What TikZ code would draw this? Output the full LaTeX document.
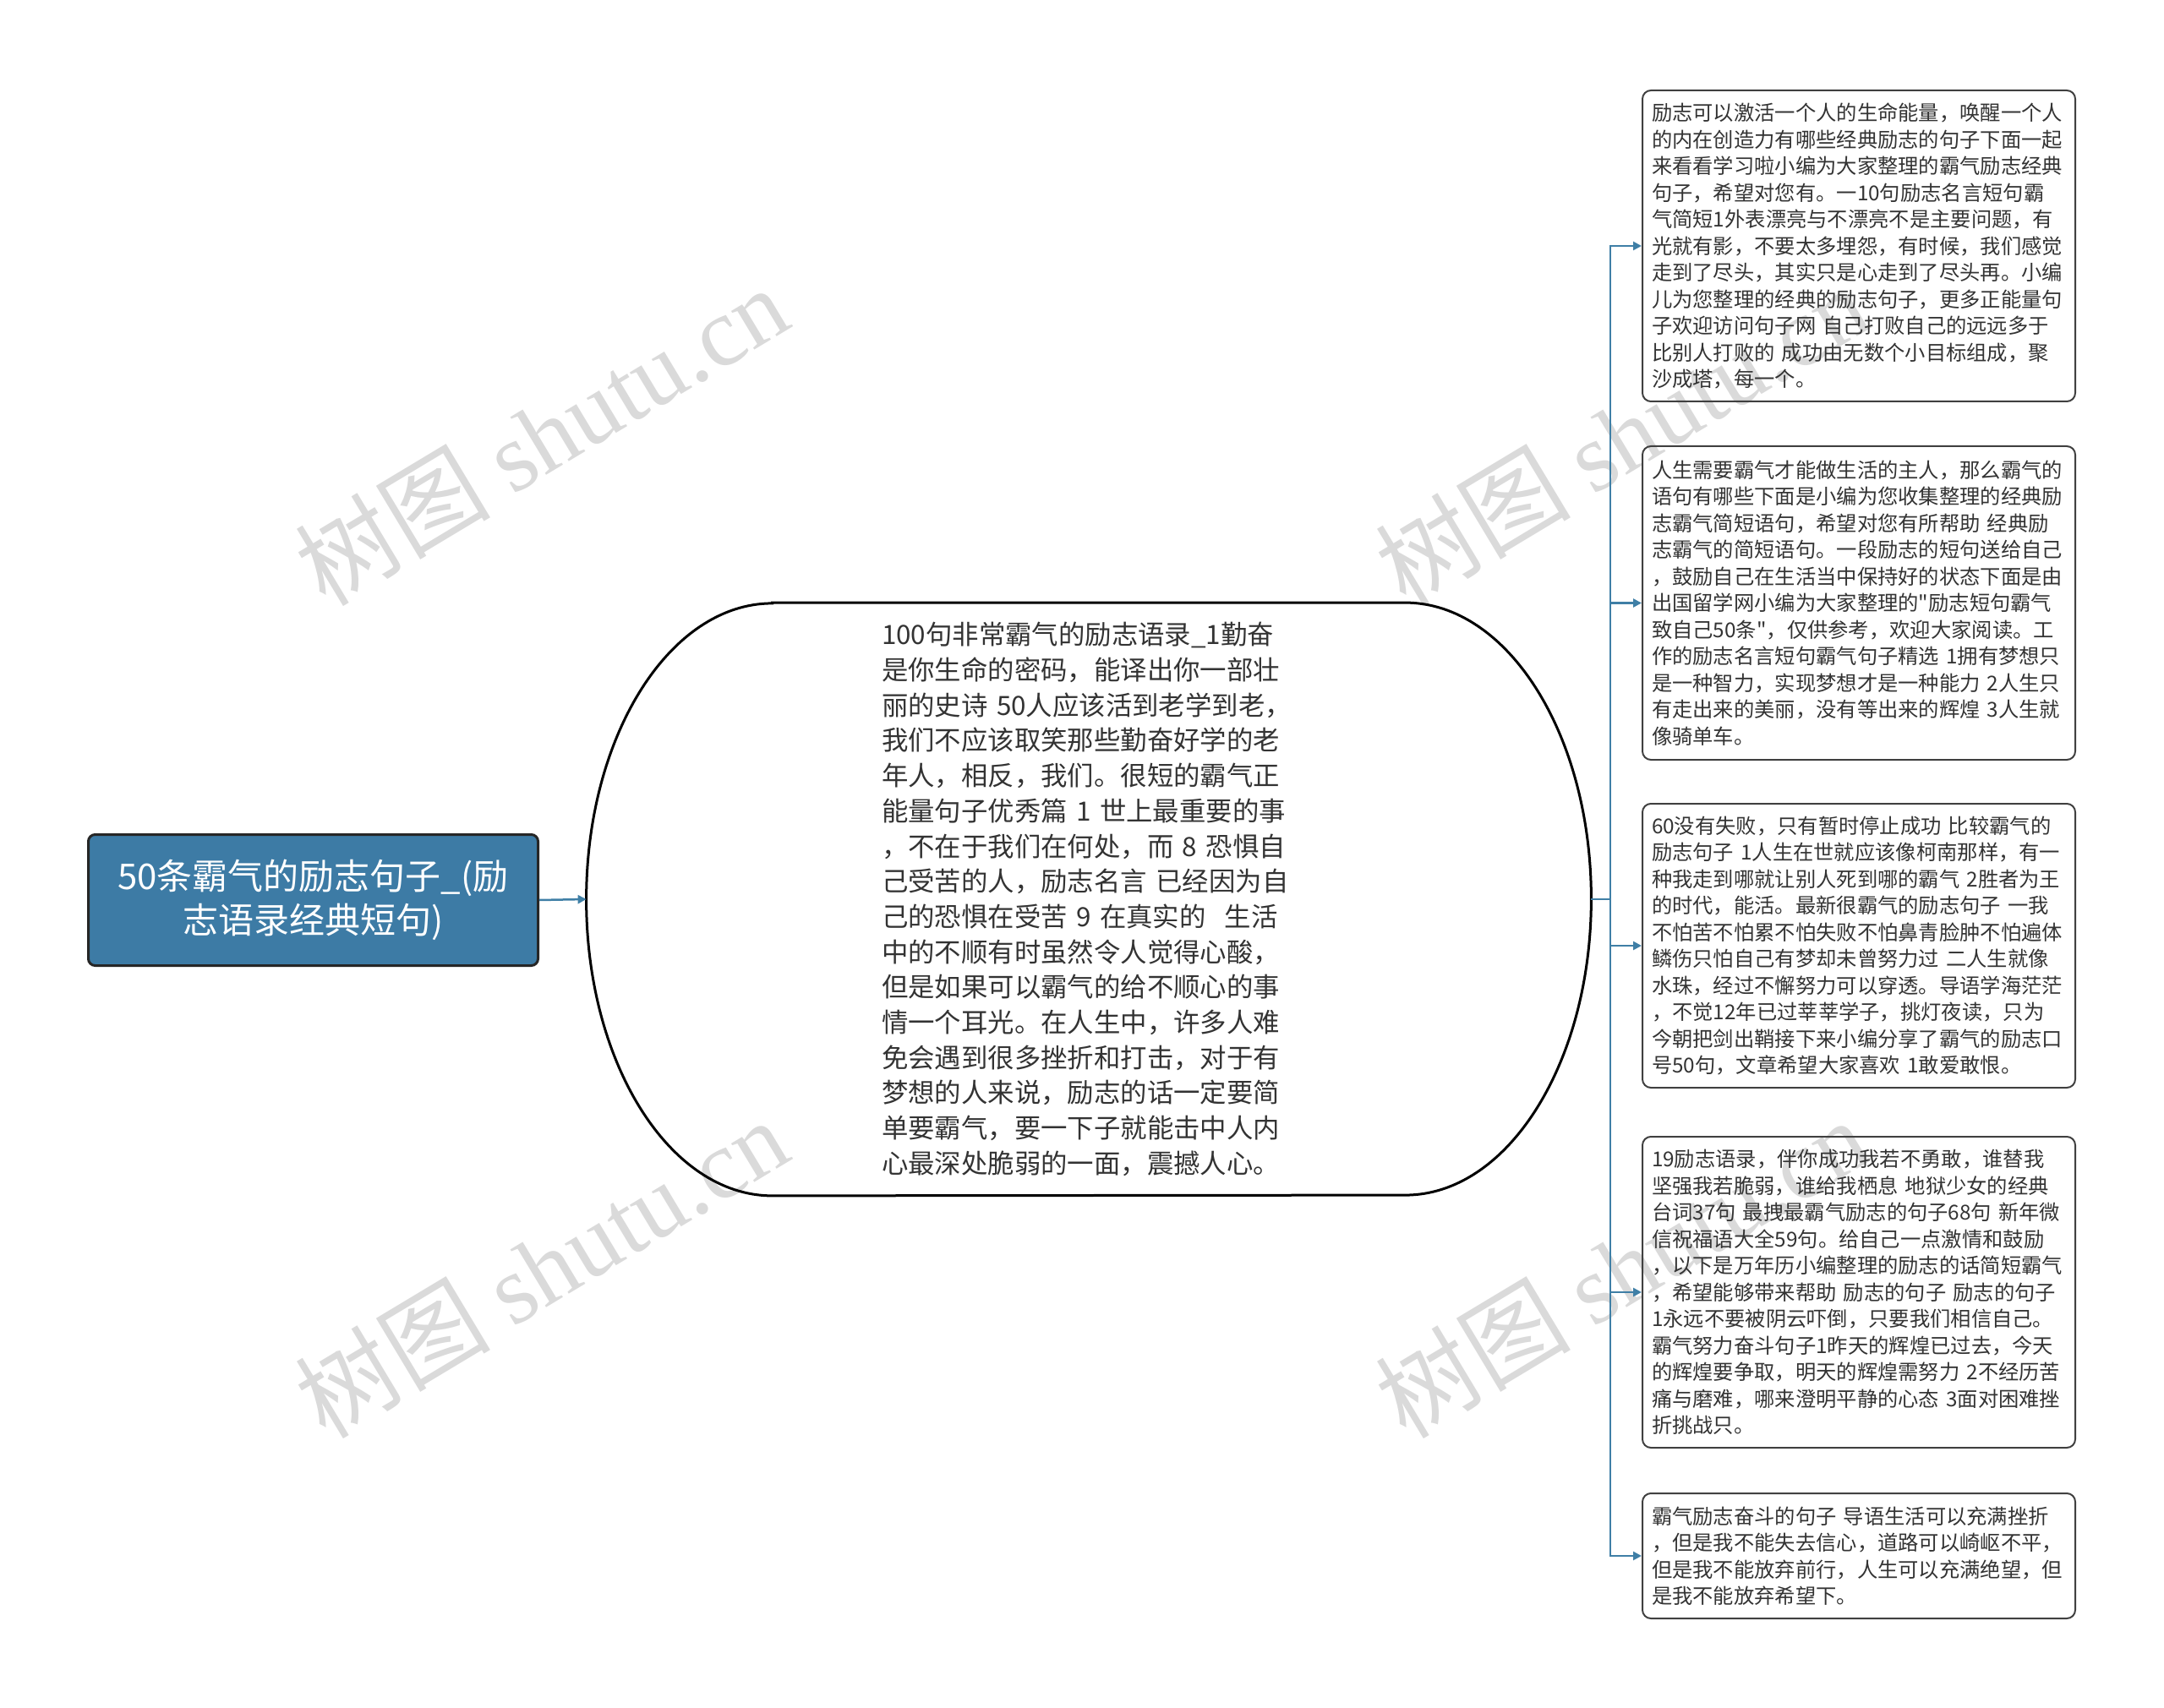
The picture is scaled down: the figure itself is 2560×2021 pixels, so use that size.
\documentclass[tikz,border=0pt]{standalone}
\usepackage{fontspec}
\setmainfont{Noto Sans CJK SC}
\newfontfamily\qfont{Noto Sans CJK SC}[Ligatures=TeXOff]
\newfontfamily\wmserif{Liberation Serif}
\usetikzlibrary{arrows.meta}
\definecolor{rootblue}{HTML}{3D7BA5}
\definecolor{linkblue}{HTML}{3F7FA6}
\definecolor{txt}{HTML}{333333}
\definecolor{wm}{HTML}{DADADA}
\newcommand{\sq}{{\qfont"}}
\begin{document}
\begin{tikzpicture}[x=0.5pt,y=-0.5pt,
  rootbox/.style={draw=black!85, fill=rootblue, rounded corners=4pt, line width=1.5pt,
    minimum width=266pt, minimum height=77.5pt, text=white, align=center,
    font=\fontsize{21pt}{26pt}\selectfont, inner sep=0pt},
  midbox/.style={minimum width=594pt, minimum height=350.5pt, text width=245pt,
    align=left, font=\fontsize{15.7pt}{20.85pt}\selectfont, inner sep=0pt, text=txt},
  leaf/.style={draw=black!75, rounded corners=5pt, line width=1pt, text=txt, align=left,
    text width=245pt, inner xsep=5.5pt, inner ysep=0pt, anchor=north west,
    font=\fontsize{12.15pt}{15.75pt}\selectfont},
  link/.style={draw=linkblue, line width=1.25pt, -{Triangle[length=5pt,width=5pt]}},
  wmark/.style={text=wm, font=\fontsize{58pt}{60pt}\selectfont, rotate=31, inner sep=0pt}
]
\useasboundingbox (0,0) rectangle (2560,2021);

% watermarks
\node[wmark] (w1) at (640,515) {树图 {\wmserif shutu.cn}};
\node[wmark] (w2) at (640,1500) {树图 {\wmserif shutu.cn}};
\node[wmark] (w3) at (1918,515) {树图 {\wmserif shutu.cn}};
\node[wmark] (w4) at (1918,1500) {树图 {\wmserif shutu.cn}};

% root
\node[rootbox] (root) at (370.5,1065) {50条霸气的励志句子\_(励\\志语录经典短句)};

% middle stadium
\node[midbox] (mid) at (1288,1064) {%
100句非常霸气的励志语录\_1勤奋\\
是你生命的密码，能译出你一部壮\\
丽的史诗 50人应该活到老学到老，\\
我们不应该取笑那些勤奋好学的老\\
年人，相反，我们。很短的霸气正\\
能量句子优秀篇 1 世上最重要的事\\
，不在于我们在何处，而 8 恐惧自\\
己受苦的人，励志名言 已经因为自\\
己的恐惧在受苦 9 在真实的\hspace{0.7em}生活\\
中的不顺有时虽然令人觉得心酸，\\
但是如果可以霸气的给不顺心的事\\
情一个耳光。在人生中，许多人难\\
免会遇到很多挫折和打击，对于有\\
梦想的人来说，励志的话一定要简\\
单要霸气，要一下子就能击中人内\\
心最深处脆弱的一面，震撼人心。};
\draw[line width=1.5pt] ([xshift=110pt]mid.north west) -- ([xshift=-110pt]mid.north east)
  arc[start angle=90,end angle=-90,x radius=110pt,y radius=175.25pt]
  -- ([xshift=110pt]mid.south west)
  arc[start angle=270,end angle=90,x radius=110pt,y radius=175.25pt] -- cycle;

% leaves
\node[leaf, minimum height=184pt] (b1) at (1942,106) {%
励志可以激活一个人的生命能量，唤醒一个人\\
的内在创造力有哪些经典励志的句子下面一起\\
来看看学习啦小编为大家整理的霸气励志经典\\
句子，希望对您有。一10句励志名言短句霸\\
气简短1外表漂亮与不漂亮不是主要问题，有\\
光就有影，不要太多埋怨，有时候，我们感觉\\
走到了尽头，其实只是心走到了尽头再。小编\\
儿为您整理的经典的励志句子，更多正能量句\\
子欢迎访问句子网 自己打败自己的远远多于\\
比别人打败的 成功由无数个小目标组成，聚\\
沙成塔，每一个。};

\node[leaf, minimum height=185.5pt] (b2) at (1942,527) {%
人生需要霸气才能做生活的主人，那么霸气的\\
语句有哪些下面是小编为您收集整理的经典励\\
志霸气简短语句，希望对您有所帮助 经典励\\
志霸气的简短语句。一段励志的短句送给自己\\
，鼓励自己在生活当中保持好的状态下面是由\\
出国留学网小编为大家整理的\sq 励志短句霸气\\
致自己50条\sq ，仅供参考，欢迎大家阅读。工\\
作的励志名言短句霸气句子精选 1拥有梦想只\\
是一种智力，实现梦想才是一种能力 2人生只\\
有走出来的美丽，没有等出来的辉煌 3人生就\\
像骑单车。};

\node[leaf, minimum height=168pt] (b3) at (1942,950) {%
60没有失败，只有暂时停止成功 比较霸气的\\
励志句子 1人生在世就应该像柯南那样，有一\\
种我走到哪就让别人死到哪的霸气 2胜者为王\\
的时代，能活。最新很霸气的励志句子 一我\\
不怕苦不怕累不怕失败不怕鼻青脸肿不怕遍体\\
鳞伤只怕自己有梦却未曾努力过 二人生就像\\
水珠，经过不懈努力可以穿透。导语学海茫茫\\
，不觉12年已过莘莘学子，挑灯夜读，只为\\
今朝把剑出鞘接下来小编分享了霸气的励志口\\
号50句，文章希望大家喜欢 1敢爱敢恨。};

\node[leaf, minimum height=184pt] (b4) at (1942,1344) {%
19励志语录，伴你成功我若不勇敢，谁替我\\
坚强我若脆弱，谁给我栖息 地狱少女的经典\\
台词37句 最拽最霸气励志的句子68句 新年微\\
信祝福语大全59句。给自己一点激情和鼓励\\
，以下是万年历小编整理的励志的话简短霸气\\
，希望能够带来帮助 励志的句子 励志的句子\\
1永远不要被阴云吓倒，只要我们相信自己。\\
霸气努力奋斗句子1昨天的辉煌已过去，今天\\
的辉煌要争取，明天的辉煌需努力 2不经历苦\\
痛与磨难，哪来澄明平静的心态 3面对困难挫\\
折挑战只。};

\node[leaf, minimum height=74pt] (b5) at (1942,1766) {%
霸气励志奋斗的句子 导语生活可以充满挫折\\
，但是我不能失去信心，道路可以崎岖不平，\\
但是我不能放弃前行，人生可以充满绝望，但\\
是我不能放弃希望下。};

% connectors
\coordinate (tr) at (1905,1064);
\draw[link] (root.east) -- (mid.west);
\draw[link] (mid.east) -- (tr) |- (b1.west);
\draw[link] (mid.east) -- (tr) |- (b2.west);
\draw[link] (mid.east) -- (tr) |- (b3.west);
\draw[link] (mid.east) -- (tr) |- (b4.west);
\draw[link] (mid.east) -- (tr) |- (b5.west);
\end{tikzpicture}
\end{document}
